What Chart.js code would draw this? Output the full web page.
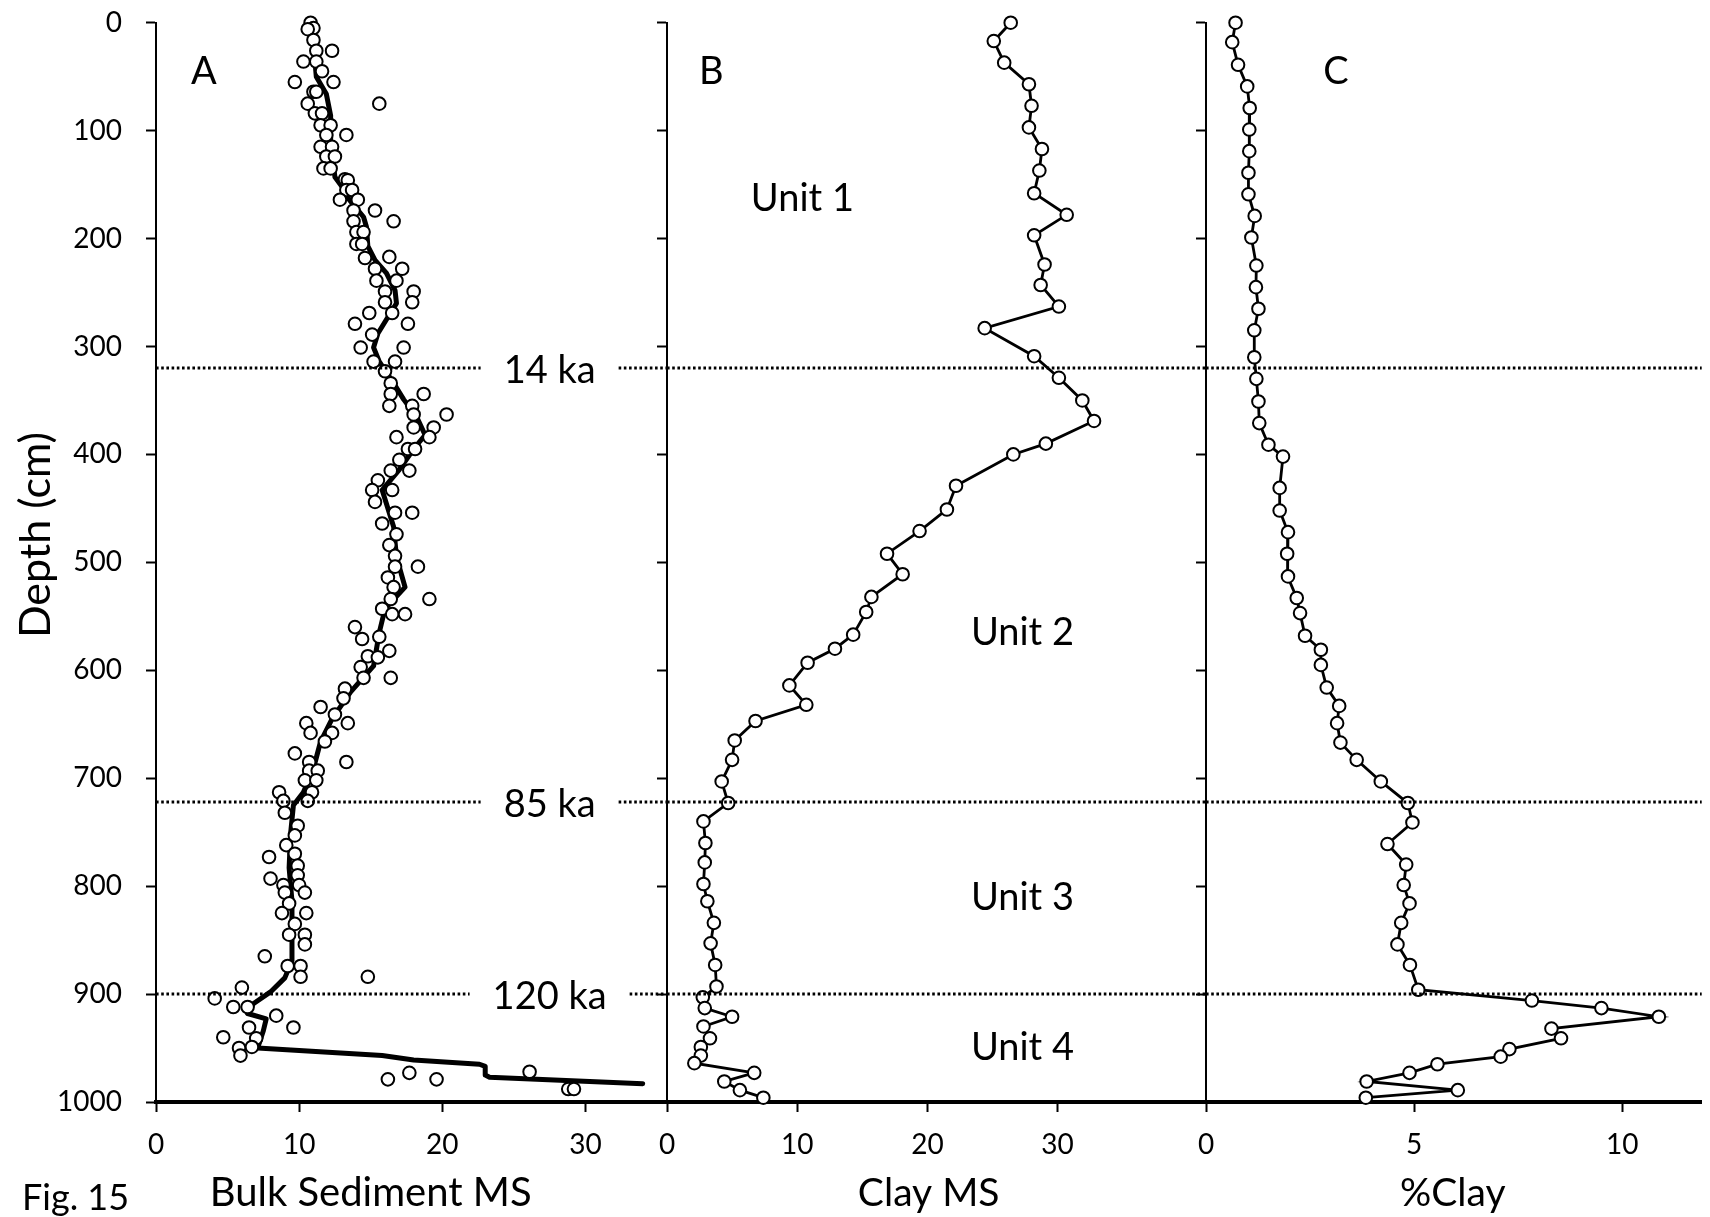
<!DOCTYPE html>
<html>
<head>
<meta charset="utf-8">
<title>Fig. 15</title>
<script src="https://cdn.jsdelivr.net/npm/chart.js@4.4.1/dist/chart.umd.min.js"></script>
<style>
  body { margin: 0; background: #fff; }
  #wrap { position: relative; width: 1710px; height: 1217px; }
  #wrap canvas { position: absolute; left: 0; top: 0; }
</style>
</head>
<body>
<div id="wrap">
  <canvas id="panelA" width="1710" height="1217"></canvas>
  <canvas id="panelB" width="1710" height="1217"></canvas>
  <canvas id="panelC" width="1710" height="1217"></canvas>
</div>
<script>
// ---- data (depth in cm) ----
// A: bulk sediment MS, individual samples
const bulkDepth = [0, 5, 6, 16, 26, 26, 36, 36, 45, 55, 55, 64, 64, 75, 75, 84, 84, 95, 95, 104, 104,
  115, 115, 124, 124, 135, 135, 145, 146, 155, 155, 164, 164, 174, 174, 184, 184, 194, 194, 205, 205,
  217, 218, 228, 228, 239, 239, 249, 249, 259, 259, 269, 269, 279, 279, 289, 301, 301, 314, 314, 323,
  334, 344, 344, 355, 355, 363, 363, 375, 375, 384, 384, 395, 395, 405, 415, 415, 424, 433, 433, 444,
  454, 454, 464, 474, 484, 494, 504, 504, 514, 523, 534, 534, 543, 548, 548, 560, 569, 571, 582, 587,
  588, 597, 607, 607, 617, 626, 634, 641, 649, 649, 658, 658, 666, 677, 685, 685, 693, 693, 702, 702,
  713, 713, 721, 721, 732, 744, 753, 762, 770, 773, 781, 790, 793, 799, 799, 806, 806, 816, 825, 825,
  835, 845, 845, 854, 865, 874, 874, 884, 884, 894, 904, 912, 912, 920, 931, 931, 940, 941, 949, 950,
  957, 972, 973, 979, 979, 988, 988];
const bulkMS = [10.8, 11.0, 10.6, 11.0, 11.2, 12.3, 10.3, 11.2, 11.6, 9.7, 12.4, 11.0, 11.2, 15.6, 10.6, 11.1, 11.6, 11.5, 12.2, 13.3, 11.9,
  11.5, 12.3, 11.9, 12.5, 11.7, 12.2, 13.2, 13.4, 13.3, 13.7, 12.85, 14.1, 13.8, 15.3, 13.8, 16.6, 14.0, 14.5, 14.0, 14.4,
  16.3, 14.6, 15.3, 17.2, 15.4, 16.8, 16.0, 18.0, 16.0, 17.9, 16.5, 14.9, 13.9, 17.6, 15.1, 14.3, 17.3, 15.2, 16.7, 16.0,
  16.4, 18.7, 16.4, 16.3, 17.9, 18.0, 20.3, 18.0, 19.4, 16.8, 19.1, 17.6, 18.1, 17.0, 16.4, 17.7, 15.5, 15.1, 16.5, 15.3,
  16.7, 17.9, 15.8, 16.8, 16.3, 16.7, 16.7, 18.3, 16.2, 16.6, 16.4, 19.1, 15.8, 16.5, 17.4, 13.9, 15.6, 14.4, 16.3, 14.8,
  15.5, 14.3, 14.5, 16.4, 13.2, 13.1, 11.5, 12.5, 13.4, 10.5, 10.8, 12.3, 11.8, 9.7, 13.3, 10.7, 10.7, 11.3, 10.4, 11.2,
  10.9, 8.6, 8.9, 10.6, 9.0, 9.9, 9.7, 9.1, 9.7, 7.9, 9.9, 9.9, 8.0, 8.9, 10.0, 9.0, 10.4, 9.3, 8.8, 10.5,
  9.7, 9.3, 10.4, 10.4, 7.6, 9.2, 10.1, 10.1, 14.8, 6.0, 4.1, 5.4, 6.4, 8.4, 6.5, 9.6, 4.7, 7.0, 6.7, 5.8,
  5.9, 26.1, 17.7, 16.2, 19.6, 28.8, 29.2];
// A: smoothed curve
const bulkTrendDepth = [5, 20, 50, 66, 86, 109, 143, 152, 164, 180, 189, 207, 220, 232, 248, 260, 275, 288,
  301, 314, 334, 349, 365, 382, 395, 414, 433, 467, 495, 523, 543, 565, 596, 620, 645, 666, 691, 713, 725,
  752, 783, 814, 845, 869, 885, 898, 909, 918, 923, 934, 950, 957, 961, 965, 967, 975, 977, 983];
const bulkTrendMS = [10.9, 11.0, 11.2, 11.9, 12.2, 12.2, 12.5, 13.0, 13.5, 14.5, 14.7, 14.8, 15.3, 16.1, 16.7, 16.8, 16.1, 15.5,
  15.2, 15.6, 16.6, 17.3, 18.2, 18.8, 18.0, 17.0, 15.8, 16.6, 16.8, 17.4, 16.0, 15.6, 15.2, 13.6, 12.3, 11.5, 11.0, 10.3, 9.6,
  9.4, 9.3, 9.5, 9.5, 9.5, 9.0, 8.0, 6.8, 6.4, 7.7, 7.5, 7.1, 15.8, 18.0, 22.6, 23.0, 23.0, 23.3, 34.0];
// B: clay MS
const clayDepth = [0, 17, 37, 57, 77, 97, 117, 137, 158, 178, 197, 224, 243, 263, 283, 309, 329, 350, 369,
  390, 400, 429, 451, 471, 492, 511, 532, 546, 567, 580, 593, 614, 632, 647, 665, 683, 703, 723, 740, 760,
  778, 798, 814, 834, 853, 873, 893, 903, 913, 921, 930, 941, 949, 957, 964, 973, 981, 989, 996];
const clayMS = [26.4, 25.1, 25.9, 27.8, 28.0, 27.8, 28.8, 28.6, 28.2, 30.7, 28.2, 29.0, 28.7, 30.1, 24.4, 28.2, 30.1, 31.9, 32.8,
  29.1, 26.6, 22.2, 21.5, 19.4, 16.9, 18.1, 15.7, 15.3, 14.3, 12.9, 10.8, 9.4, 10.7, 6.8, 5.2, 5.0, 4.2, 4.7, 2.8, 2.95,
  2.9, 2.8, 3.1, 3.6, 3.35, 3.7, 3.8, 2.75, 2.9, 5.0, 2.8, 3.3, 2.6, 2.6, 2.1, 6.7, 4.4, 5.6, 7.4];
// C: %clay
const pctDepth = [0, 18, 39, 59, 79, 99, 119, 139, 159, 179, 199, 225, 245, 265, 285, 310, 330, 351, 371,
  391, 402, 431, 452, 472, 492, 513, 533, 547, 568, 581, 595, 616, 633, 649, 667, 683, 703, 723, 741, 761,
  780, 799, 816, 834, 854, 873, 896, 906, 913, 921, 932, 941, 951, 958, 965, 973, 981, 989, 996];
const pctClay = [0.71, 0.63, 0.77, 0.99, 1.05, 1.04, 1.04, 1.02, 1.02, 1.17, 1.09, 1.21, 1.2, 1.26, 1.16, 1.16, 1.21, 1.26, 1.28,
  1.5, 1.85, 1.77, 1.77, 1.97, 1.95, 1.97, 2.18, 2.26, 2.38, 2.76, 2.76, 2.9, 3.2, 3.15, 3.23, 3.62, 4.2, 4.85, 4.96, 4.36,
  4.81, 4.75, 4.89, 4.69, 4.6, 4.9, 5.1, 7.83, 9.5, 10.88, 8.3, 8.53, 7.29, 7.08, 5.56, 4.89, 3.86, 6.05, 3.84];

const horizonDepth = [320, 722, 900];
const horizonLabel = ['14 ka', '85 ka', '120 ka'];
const unitLabel = ['Unit 1', 'Unit 2', 'Unit 3', 'Unit 4'];

const depthTicks = [0, 100, 200, 300, 400, 500, 600, 700, 800, 900, 1000];
const bulkTicks = [0, 10, 20, 30];
const clayTicks = [0, 10, 20, 30];
const pctTicks = [0, 5, 10];

// ---- layout ----
const W = 1710;
const FONT = 'Lato, "Open Sans", sans-serif';
Chart.defaults.font.family = FONT;
Chart.defaults.color = '#000';

const pts = (depths, vals) => depths.map((d, i) => ({ x: vals[i], y: d }));

function depthAxis(showLabels, width) {
  return {
    type: 'linear', reverse: true, min: 0, max: 1000,
    afterBuildTicks: s => { s.ticks = depthTicks.map(v => ({ value: v })); },
    afterFit: s => { s.width = width; s.paddingTop = 0; s.paddingBottom = 0; },
    grid: { drawOnChartArea: false, drawTicks: true, tickLength: 10, tickWidth: 2, tickColor: '#000' },
    border: { display: true, color: '#000', width: 2 },
    ticks: { display: showLabels, padding: 24, font: { size: 28 }, color: '#000', callback: v => String(v) }
  };
}

function valueAxis(max, tickVals) {
  return {
    type: 'linear', min: 0, max: max,
    afterBuildTicks: s => { s.ticks = tickVals.map(v => ({ value: v })); },
    afterFit: s => { s.height = 115; s.paddingLeft = 0; s.paddingRight = 0; },
    grid: { drawOnChartArea: false, drawTicks: true, tickLength: 10, tickWidth: 2, tickColor: '#000' },
    border: { display: true, color: '#000', width: 4 },
    ticks: { padding: 16, font: { size: 28 }, color: '#000', callback: v => String(v) }
  };
}

function text(ctx, str, x, y, size, align, baseline) {
  ctx.font = size + 'px ' + FONT;
  ctx.fillStyle = '#000';
  ctx.textAlign = align || 'center';
  ctx.textBaseline = baseline || 'middle';
  ctx.fillText(str, x, y);
}

// dotted age horizons; in panel A they break around the age label
function horizons(chart, labelAt) {
  const { ctx, chartArea: a, scales: { x, y } } = chart;
  ctx.save();
  ctx.strokeStyle = '#000';
  ctx.lineWidth = 2.8;
  ctx.setLineDash([2.6, 2.6]);
  horizonDepth.forEach((d, i) => {
    const py = Math.round(y.getPixelForValue(d));
    let segs = [[a.left, a.right]];
    if (labelAt !== undefined) {
      ctx.font = '38px ' + FONT;
      const cx = x.getPixelForValue(labelAt);
      const half = ctx.measureText(horizonLabel[i]).width / 2 + 23;
      segs = [[a.left, cx - half], [cx + half, a.right]];
    }
    segs.forEach(s => {
      ctx.beginPath();
      ctx.moveTo(s[0], py);
      ctx.lineTo(s[1], py);
      ctx.stroke();
    });
  });
  ctx.restore();
}

function panel(id, left, right, yWidth, showDepth, xAxis, datasets, draw) {
  return new Chart(document.getElementById(id), {
    type: 'scatter',
    data: { datasets: datasets },
    options: {
      responsive: false,
      animation: false,
      devicePixelRatio: 1,
      events: [],
      layout: { padding: { left: left - yWidth, right: W - right, top: 22.7, bottom: 0 } },
      scales: { x: xAxis, y: depthAxis(showDepth, yWidth) },
      plugins: { legend: { display: false }, tooltip: { enabled: false } }
    },
    plugins: [{
      id: 'notes',
      afterDatasetsDraw: c => draw.lines(c),
      afterDraw: c => draw.texts(c)
    }]
  });
}

const circle = {
  pointRadius: 6.3, pointBorderWidth: 2,
  pointBackgroundColor: '#fff', pointBorderColor: '#000', clip: false
};

// Panel A
panel('panelA', 156, 667, 156, true, valueAxis(35.7, bulkTicks), [
  Object.assign({ data: pts(bulkDepth, bulkMS), showLine: false }, circle),
  { data: pts(bulkTrendDepth, bulkTrendMS), showLine: true, pointRadius: 0, borderColor: '#000',
    borderWidth: 5, borderJoinStyle: 'round', borderCapStyle: 'round', clip: false }
], {
  lines: c => horizons(c, 27.5),
  texts: c => {
    const { ctx, scales: { x, y } } = c;
    ctx.save();
    text(ctx, 'A', x.getPixelForValue(3.35), y.getPixelForValue(45.7), 38);
    horizonDepth.forEach((d, i) => text(ctx, horizonLabel[i], x.getPixelForValue(27.5), y.getPixelForValue(d) + 3, 38));
    text(ctx, 'Bulk Sediment MS', x.getPixelForValue(15.0), 1206, 40, 'center', 'alphabetic');
    text(ctx, 'Fig. 15', 22, 1210, 36, 'left', 'alphabetic');
    ctx.translate(50, 535);
    ctx.rotate(-Math.PI / 2);
    text(ctx, 'Depth (cm)', 0, 0, 43, 'center', 'alphabetic');
    ctx.restore();
  }
});

// Panel B
panel('panelB', 667, 1206, 20, false, valueAxis(41.4, clayTicks), [
  Object.assign({ data: pts(clayDepth, clayMS), showLine: true, borderColor: '#000', borderWidth: 2.8, tension: 0 }, circle)
], {
  lines: c => horizons(c),
  texts: c => {
    const { ctx, scales: { x, y } } = c;
    ctx.save();
    text(ctx, 'B', x.getPixelForValue(3.4), y.getPixelForValue(45.7), 38);
    text(ctx, unitLabel[0], x.getPixelForValue(10.4), y.getPixelForValue(163), 38);
    text(ctx, unitLabel[1], x.getPixelForValue(27.3), y.getPixelForValue(565), 38);
    text(ctx, unitLabel[2], x.getPixelForValue(27.3), y.getPixelForValue(811), 38);
    text(ctx, unitLabel[3], x.getPixelForValue(27.3), y.getPixelForValue(950), 38);
    text(ctx, 'Clay MS', x.getPixelForValue(20.1), 1206, 39, 'center', 'alphabetic');
    ctx.restore();
  }
});

// Panel C
panel('panelC', 1206, 1710, 20, false, valueAxis(11.91, pctTicks), [
  Object.assign({ data: pts(pctDepth, pctClay), showLine: true, borderColor: '#000', borderWidth: 2.8, tension: 0 }, circle)
], {
  lines: c => horizons(c),
  texts: c => {
    const { ctx, scales: { x, y } } = c;
    ctx.save();
    text(ctx, 'C', x.getPixelForValue(3.12), y.getPixelForValue(45.7), 38);
    text(ctx, '%Clay', x.getPixelForValue(5.93), 1206, 39, 'center', 'alphabetic');
    ctx.restore();
  }
});
</script>
</body>
</html>
